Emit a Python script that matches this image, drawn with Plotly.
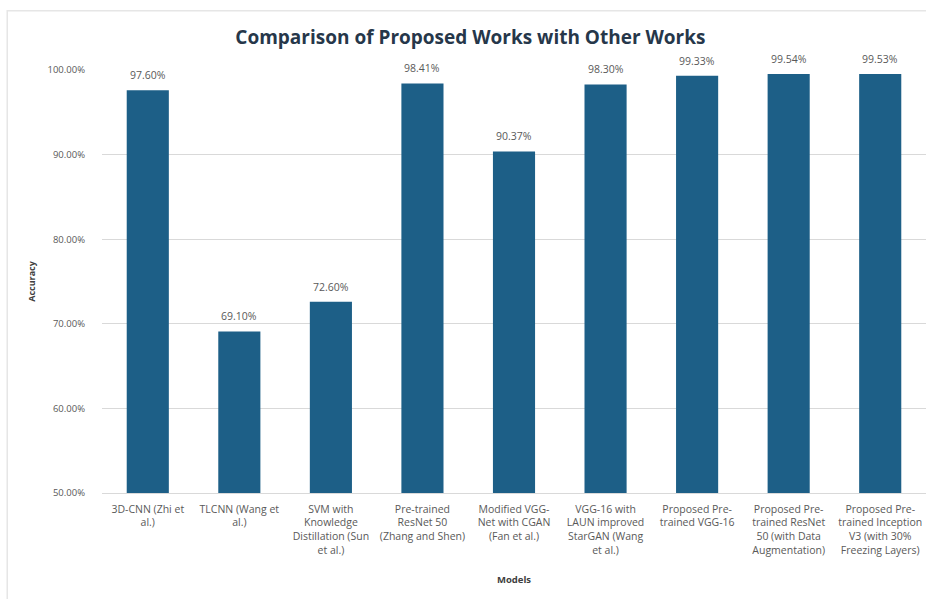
import plotly.graph_objects as go

categories = [
    "3D-CNN (Zhi et<br>al.)",
    "TLCNN (Wang et<br>al.)",
    "SVM with<br>Knowledge<br>Distillation (Sun<br>et al.)",
    "Pre-trained<br>ResNet 50<br>(Zhang and Shen)",
    "Modified VGG-<br>Net with CGAN<br>(Fan et al.)",
    "VGG-16 with<br>LAUN improved<br>StarGAN (Wang<br>et al.)",
    "Proposed Pre-<br>trained VGG-16",
    "Proposed Pre-<br>trained ResNet<br>50 (with Data<br>Augmentation)",
    "Proposed Pre-<br>trained Inception<br>V3 (with 30%<br>Freezing Layers)",
]
accuracy = [0.9760, 0.6910, 0.7260, 0.9841, 0.9037, 0.9830, 0.9933, 0.9954, 0.9953]
y_ticks = [0.5, 0.6, 0.7, 0.8, 0.9, 1.0]

fig = go.Figure(go.Bar(
    x=categories,
    y=accuracy,
    marker=dict(color="#1d5f87", line=dict(width=0)),
    width=0.46,
    hovertemplate="%{y:.2%}<extra></extra>",
))

annotations = [
    dict(x=c, y=v, xref="x", yref="y", text=f"{v:.2%}", showarrow=False,
         yanchor="middle", yshift=15,
         font=dict(family="Open Sans", size=10.5, color="#595959"))
    for c, v in zip(categories, accuracy)
]

fig.update_layout(
    width=926, height=599,
    paper_bgcolor="white", plot_bgcolor="white",
    margin=dict(l=102, r=0, t=70, b=106),
    title=dict(text="<b>Comparison of Proposed Works with Other Works</b>",
               x=0.508, xanchor="center", y=0.938, yanchor="middle",
               font=dict(family="Open Sans", size=19, color="#26374a")),
    showlegend=False,
    font=dict(family="Open Sans", color="#595959"),
    annotations=annotations,
    shapes=[dict(type="rect", xref="paper", yref="paper", x0=-0.115, x1=1.05, y0=-0.3, y1=1.14,
                 line=dict(color="#e6e6e6", width=1.5), layer="below")],
)
fig.update_xaxes(
    tickfont=dict(family="Open Sans", size=10.5, color="#595959"),
    title=dict(text="<b>Models</b>", font=dict(family="Open Sans", size=9.5, color="#404040"), standoff=20),
    showline=True, linecolor="#d9d9d9", linewidth=1, ticks="",
    tickangle=0, ticklabelstandoff=6,
)
fig.update_yaxes(
    range=[0.5, 1.0], tickvals=y_ticks, tickformat=".2%",
    tickfont=dict(family="Open Sans", size=9.5, color="#595959"),
    gridcolor="#d9d9d9", gridwidth=1, zeroline=False,
    ticklabelstandoff=16,
    title=dict(text="<b>Accuracy</b>", font=dict(family="Open Sans", size=9, color="#404040"), standoff=10),
)

fig.write_html("out.html", config={"displayModeBar": False},
               post_script="document.body.style.margin='0';document.body.style.overflow='hidden';")
